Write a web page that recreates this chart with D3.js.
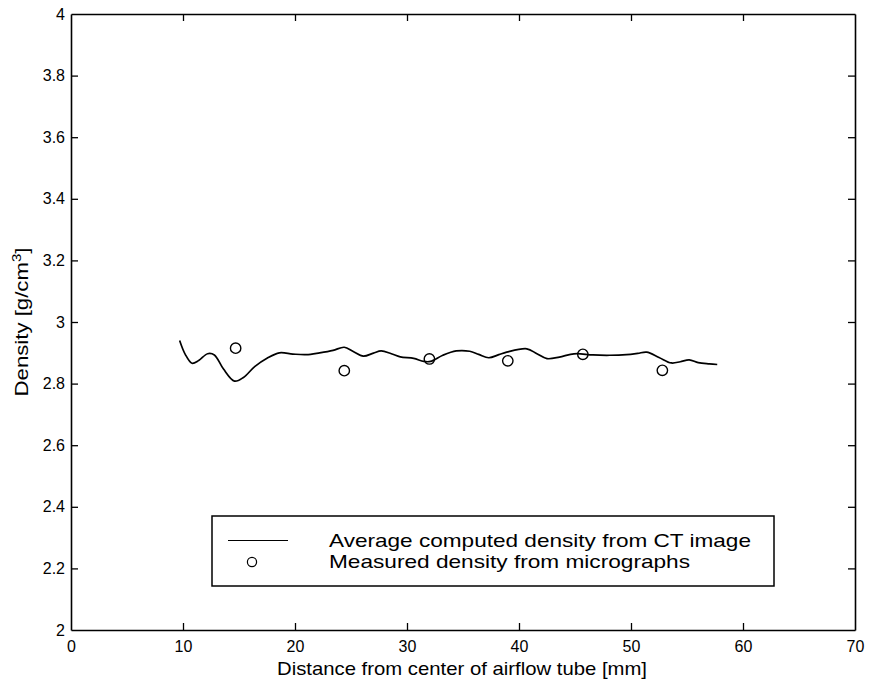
<!DOCTYPE html>
<html>
<head>
<meta charset="utf-8">
<script src="https://cdn.jsdelivr.net/npm/d3@7"></script>
<style>
  html, body { margin: 0; padding: 0; background: #fff; }
  svg { display: block; font-family: "Liberation Sans", Arial, Helvetica, sans-serif; }
</style>
</head>
<body>
<svg id="chart" width="870" height="685"></svg>
<script>
// Average computed density along the radius (from CT image)
const ctDistance = [9.7, 10.2, 10.8, 11.4, 12.2, 12.8, 13.6, 14.6, 15.4, 16.4, 17.5, 18.6, 19.8, 21.0,
  22.2, 23.4, 24.4, 25.2, 26.1, 27.0, 27.7, 28.6, 29.4, 30.6, 31.5, 32.1, 33.2, 34.4, 35.6, 36.4,
  37.3, 38.2, 38.9, 40.7, 41.6, 42.5, 43.6, 44.6, 45.2, 46.6, 48.1, 49.6, 50.6, 51.4, 52.5, 53.6,
  54.4, 55.2, 56.0, 57.0, 57.7];
const ctDensity = [2.940, 2.895, 2.866, 2.875, 2.897, 2.893, 2.848, 2.808, 2.820, 2.855, 2.882, 2.900, 2.896, 2.894,
  2.900, 2.908, 2.918, 2.904, 2.889, 2.899, 2.906, 2.897, 2.887, 2.882, 2.872, 2.872, 2.892, 2.906, 2.905, 2.895,
  2.884, 2.894, 2.902, 2.913, 2.897, 2.881, 2.886, 2.895, 2.897, 2.893, 2.892, 2.894, 2.898, 2.902, 2.885, 2.867,
  2.871, 2.877, 2.868, 2.864, 2.862];

// Density measured from micrographs
const microDistance = [14.7, 24.4, 32.0, 39.0, 45.7, 52.8];
const microDensity = [2.915, 2.842, 2.880, 2.874, 2.895, 2.843];

const xTicks = [0, 10, 20, 30, 40, 50, 60, 70];
const yTicks = [2, 2.2, 2.4, 2.6, 2.8, 3, 3.2, 3.4, 3.6, 3.8, 4];
const legendLabels = ["Average computed density from CT image", "Measured density from micrographs"];
const legendWidths = [422, 361];

const svg = d3.select("#chart");
const plotLeft = 71, plotRight = 855, plotTop = 14, plotBottom = 630;

const x = d3.scaleLinear().domain([0, 70]).range([plotLeft, plotRight]);
const y = d3.scaleLinear().domain([2, 4]).range([plotBottom, plotTop]);

const fmtY = d => (Number.isInteger(d) ? d3.format("d")(d) : d3.format(".1f")(d));
const tickLen = 7;

// Axes with inward ticks, mirrored on the top and right edges
const axB = svg.append("g").attr("transform", `translate(0,${plotBottom})`)
  .call(d3.axisBottom(x).tickValues(xTicks).tickSizeInner(-tickLen).tickSizeOuter(0).tickPadding(11));
const axT = svg.append("g").attr("transform", `translate(0,${plotTop})`)
  .call(d3.axisTop(x).tickValues(xTicks).tickSizeInner(-tickLen).tickSizeOuter(0).tickFormat(""));
const axL = svg.append("g").attr("transform", `translate(${plotLeft},0)`)
  .call(d3.axisLeft(y).tickValues(yTicks).tickSizeInner(-tickLen).tickSizeOuter(0).tickPadding(6).tickFormat(fmtY));
const axR = svg.append("g").attr("transform", `translate(${plotRight},0)`)
  .call(d3.axisRight(y).tickValues(yTicks).tickSizeInner(-tickLen).tickSizeOuter(0).tickFormat(""));

[axB, axT, axL, axR].forEach(g => {
  g.select(".domain").attr("stroke", "#000").attr("stroke-width", 1.6);
  g.selectAll(".tick line").attr("stroke", "#000").attr("stroke-width", 1.3);
  g.selectAll(".tick text").attr("fill", "#000").attr("font-size", 16)
    .attr("font-family", "'Liberation Sans', Arial, sans-serif");
});
// hide end ticks that sit on the frame
axB.selectAll(".tick").filter(d => d === 0 || d === 70).select("line").remove();
axT.selectAll(".tick").filter(d => d === 0 || d === 70).select("line").remove();
axL.selectAll(".tick").filter(d => d === 2 || d === 4).select("line").remove();
axR.selectAll(".tick").filter(d => d === 2 || d === 4).select("line").remove();

// CT profile
const ctData = ctDistance.map((d, i) => [d, ctDensity[i]]);
svg.append("path")
  .datum(ctData)
  .attr("fill", "none")
  .attr("stroke", "#000")
  .attr("stroke-width", 1.7)
  .attr("d", d3.line().x(d => x(d[0])).y(d => y(d[1])).curve(d3.curveCatmullRom.alpha(0.5)));

// micrograph measurements
svg.append("g").selectAll("circle")
  .data(microDistance.map((d, i) => [d, microDensity[i]]))
  .join("circle")
  .attr("cx", d => x(d[0]))
  .attr("cy", d => y(d[1]))
  .attr("r", 5.2)
  .attr("fill", "none")
  .attr("stroke", "#000")
  .attr("stroke-width", 1.4);

// axis titles (wide-set lettering)
svg.append("text")
  .attr("x", 462)
  .attr("y", 675)
  .attr("text-anchor", "middle")
  .attr("font-size", 18.5)
  .attr("textLength", 370)
  .attr("lengthAdjust", "spacingAndGlyphs")
  .attr("fill", "#000")
  .text("Distance from center of airflow tube [mm]");

const yTitle = svg.append("text")
  .attr("transform", `translate(28,${y(3.0)}) rotate(-90) scale(1.2,1)`)
  .attr("text-anchor", "middle")
  .attr("font-size", 18.5)
  .attr("fill", "#000");
yTitle.append("tspan").text("Density [g/cm");
yTitle.append("tspan").attr("font-size", 12.5).attr("dy", -7).text("3");
yTitle.append("tspan").attr("dy", 7).text("]");

// legend
const lg = svg.append("g");
lg.append("rect")
  .attr("x", 212).attr("y", 516).attr("width", 562).attr("height", 70)
  .attr("fill", "#fff").attr("stroke", "#000").attr("stroke-width", 1.5);
lg.append("line")
  .attr("x1", 228).attr("x2", 288).attr("y1", 540.5).attr("y2", 540.5)
  .attr("stroke", "#000").attr("stroke-width", 1.2);
lg.append("circle")
  .attr("cx", 252).attr("cy", 562).attr("r", 4.6)
  .attr("fill", "none").attr("stroke", "#000").attr("stroke-width", 1.2);
lg.selectAll("text.lab")
  .data(legendLabels)
  .join("text")
  .attr("class", "lab")
  .attr("x", 329)
  .attr("y", (d, i) => 547 + i * 21)
  .attr("font-size", 18.5)
  .attr("textLength", (d, i) => legendWidths[i])
  .attr("lengthAdjust", "spacingAndGlyphs")
  .attr("fill", "#000")
  .text(d => d);
</script>
</body>
</html>
